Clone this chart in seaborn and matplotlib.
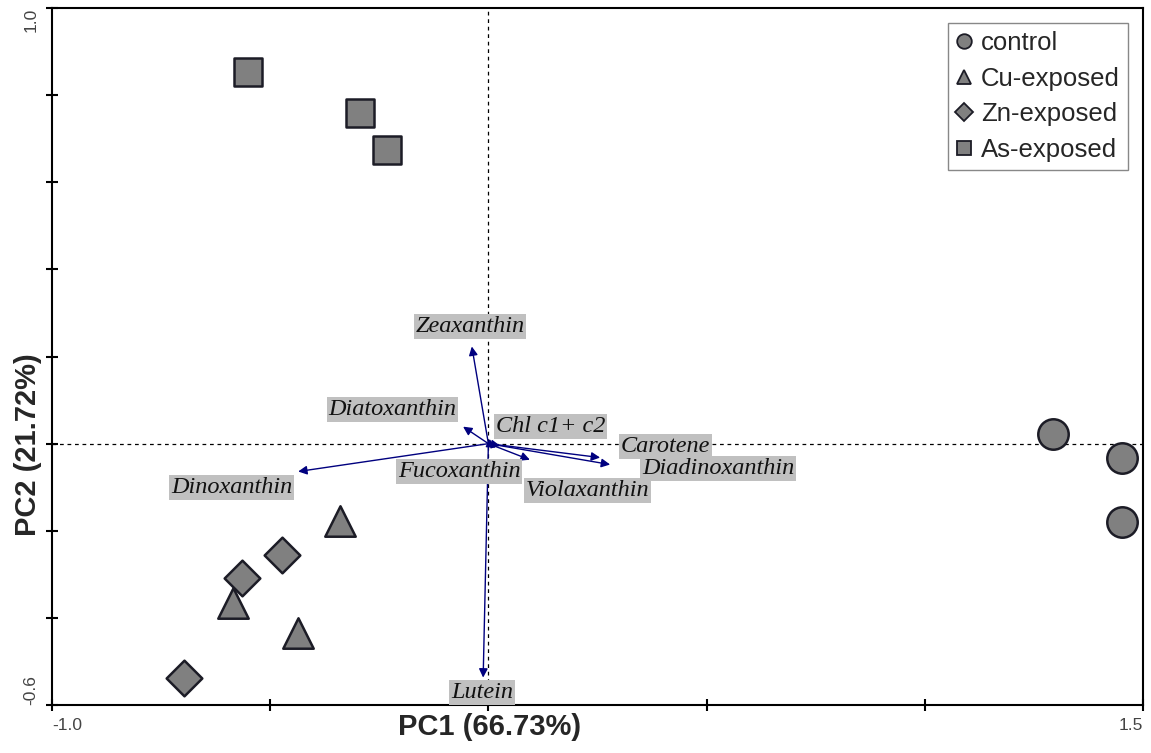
import matplotlib
matplotlib.use("Agg")
import matplotlib.pyplot as plt
import seaborn as sns
import pandas as pd
from matplotlib.lines import Line2D

# ---- data ----
groups = ["control", "Cu-exposed", "Zn-exposed", "As-exposed"]
pc1_control = [1.294, 1.452, 1.452]
pc2_control = [0.023, -0.032, -0.179]
pc1_cu = [-0.340, -0.585, -0.436]
pc2_cu = [-0.177, -0.365, -0.434]
pc1_zn = [-0.473, -0.565, -0.698]
pc2_zn = [-0.255, -0.308, -0.537]
pc1_as = [-0.550, -0.294, -0.232]
pc2_as = [0.854, 0.760, 0.675]

pigments = ["Zeaxanthin", "Diatoxanthin", "Chl c1+ c2", "Carotene", "Diadinoxanthin",
            "Fucoxanthin", "Violaxanthin", "Dinoxanthin", "Lutein"]
loading_pc1 = [-0.038, -0.058, 0.027, 0.256, 0.279, 0.017, 0.095, -0.436, -0.012]
loading_pc2 = [0.223, 0.039, -0.005, -0.032, -0.048, -0.009, -0.037, -0.064, -0.537]
label_pc1 = [-0.042, -0.220, 0.143, 0.405, 0.526, -0.067, 0.228, -0.588, -0.015]
label_pc2 = [0.269, 0.078, 0.039, -0.007, -0.057, -0.064, -0.108, -0.101, -0.571]

x_ticks = [-1.0, -0.5, 0.0, 0.5, 1.0, 1.5]
x_ticklabels = ["-1.0", "", "", "", "", "1.5"]
y_ticks = [-0.6, -0.4, -0.2, 0.0, 0.2, 0.4, 0.6, 0.8, 1.0]
y_ticklabels = ["-0.6", "", "", "", "", "", "", "", "1.0"]

# ---- build table ----
df = pd.concat([
    pd.DataFrame({"PC1": pc1_control, "PC2": pc2_control, "group": "control"}),
    pd.DataFrame({"PC1": pc1_cu, "PC2": pc2_cu, "group": "Cu-exposed"}),
    pd.DataFrame({"PC1": pc1_zn, "PC2": pc2_zn, "group": "Zn-exposed"}),
    pd.DataFrame({"PC1": pc1_as, "PC2": pc2_as, "group": "As-exposed"}),
], ignore_index=True)

sns.set_style("white")
plt.rcParams["font.family"] = ["Liberation Sans", "DejaVu Sans"]

fig = plt.figure(figsize=(11.51, 7.53), dpi=100)
ax = fig.add_axes([0.0452, 0.0637, 0.9478, 0.9257])

fill = "#808080"
edge = "#1c1c26"
marker_map = {"control": "o", "Cu-exposed": "^", "Zn-exposed": "D", "As-exposed": "s"}
size_map = {"control": 480, "Cu-exposed": 480, "Zn-exposed": 330, "As-exposed": 390}

ax.axhline(0, color="black", lw=0.9, ls=(0, (3, 3)), zorder=1)
ax.axvline(0, color="black", lw=0.9, ls=(0, (3, 3)), zorder=1)

# loading arrows
for name, lx, ly in zip(pigments, loading_pc1, loading_pc2):
    ax.annotate("", xy=(lx, ly), xytext=(0, 0),
                arrowprops=dict(arrowstyle="-|>", color="#00007f", lw=1.0,
                                mutation_scale=13, shrinkA=0, shrinkB=0),
                zorder=2)
for name, tx, ty in zip(pigments, label_pc1, label_pc2):
    ax.text(tx, ty, name, ha="center", va="center", fontsize=17.5,
            family="Liberation Serif", style="italic", color="#111111",
            bbox=dict(facecolor="#c0c0c0", edgecolor="none", pad=1.2), zorder=3)

for g in groups:
    sub = df[df["group"] == g]
    sns.scatterplot(data=sub, x="PC1", y="PC2", ax=ax, marker=marker_map[g],
                    s=size_map[g], color=fill, edgecolor=edge, linewidth=1.8,
                    legend=False, zorder=4)

ax.set_xlim(-1.0, 1.5)
ax.set_ylim(-0.6, 1.0)

ax.set_xticks(x_ticks)
ax.set_xticklabels(x_ticklabels)
ax.set_yticks(y_ticks)
ax.set_yticklabels(y_ticklabels, rotation=90)
xl = ax.get_xticklabels()
xl[0].set_ha("left")
xl[-1].set_ha("right")
yl = ax.get_yticklabels()
yl[0].set_va("bottom")
yl[-1].set_va("top")
ax.tick_params(axis="both", which="major", bottom=True, left=True, top=False, right=False,
               direction="inout", length=8, width=1.5,
               labelsize=12.5, labelcolor="#444444", color="black")
ax.tick_params(axis="x", pad=5)
ax.tick_params(axis="y", pad=6)

for sp in ax.spines.values():
    sp.set_visible(True)
    sp.set_color("black")
    sp.set_linewidth(1.5)

ax.set_xlabel("PC1 (66.73%)", fontsize=21, fontweight="bold")
ax.set_ylabel("PC2 (21.72%)", fontsize=21, fontweight="bold")
ax.xaxis.set_label_coords(0.401, -0.012)
ax.yaxis.set_label_coords(-0.009, 0.374)

handles = [Line2D([], [], ls="", marker=marker_map[g], markersize=10.5 if g != "Zn-exposed" else 9,
                  markerfacecolor=fill, markeredgecolor=edge, markeredgewidth=1.3, label=g)
           for g in groups]
leg = ax.legend(handles=handles, loc="upper right", fontsize=18.5, frameon=True,
                fancybox=False, edgecolor="#888888", framealpha=1,
                borderaxespad=0.6, borderpad=0.3, labelspacing=0.45,
                handlelength=0.7, handletextpad=0.3)
leg.get_frame().set_linewidth(1.0)

fig.savefig("out.png", dpi=100)
